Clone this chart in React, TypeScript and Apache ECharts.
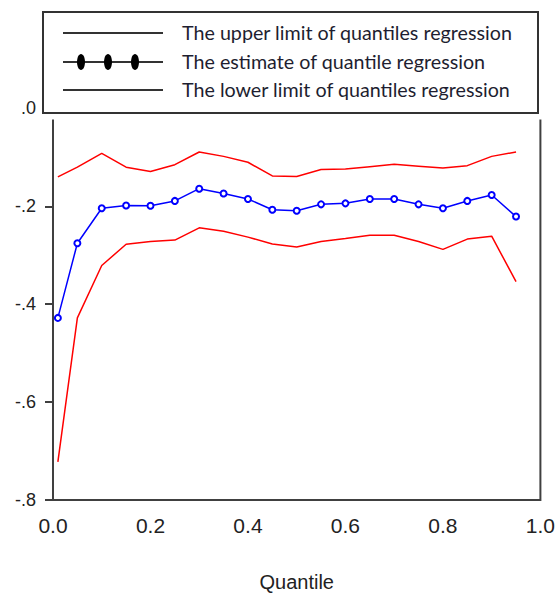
import React, { useEffect, useRef } from "react";
import * as echarts from "echarts";

const quantiles = [0.01, 0.05, 0.1, 0.15, 0.2, 0.25, 0.3, 0.35, 0.4, 0.45, 0.5, 0.55, 0.6, 0.65, 0.7, 0.75, 0.8, 0.85, 0.9, 0.95];
const upperLimit = [-0.14, -0.12, -0.092, -0.12, -0.129, -0.115, -0.089, -0.098, -0.11, -0.138, -0.139, -0.125, -0.124, -0.119, -0.114, -0.118, -0.122, -0.117, -0.098, -0.089];
const estimate = [-0.428, -0.2755, -0.204, -0.1985, -0.199, -0.189, -0.164, -0.174, -0.185, -0.207, -0.209, -0.196, -0.194, -0.185, -0.185, -0.196, -0.204, -0.189, -0.177, -0.221];
const lowerLimit = [-0.722, -0.428, -0.321, -0.2775, -0.272, -0.269, -0.244, -0.251, -0.263, -0.277, -0.283, -0.272, -0.266, -0.259, -0.259, -0.272, -0.288, -0.267, -0.261, -0.354];

const legendLabels = [
  "The upper limit of quantiles regression",
  "The estimate of quantile regression",
  "The lower limit of quantiles regression",
];

const xTitle = "Quantile";

export default function App() {
  const ref = useRef<HTMLDivElement>(null);
  useEffect(() => {
    if (!ref.current) return;
    const chart = echarts.init(ref.current, null, { renderer: "svg" });
    const pair = (arr: number[]) => quantiles.map((q, i) => [q, arr[i]]);
    const axisColor = "#404040";
    const rowY = [33, 62, 90];
    chart.setOption({
      animation: false,
      backgroundColor: "#ffffff",
      grid: { left: 53, right: 13, top: 108.4, bottom: 90, show: true, borderColor: axisColor, borderWidth: 2, containLabel: false },
      xAxis: {
        type: "value",
        min: 0,
        max: 1,
        interval: 0.2,
        name: xTitle,
        nameLocation: "middle",
        nameGap: 72,
        nameTextStyle: { fontFamily: "Liberation Sans", fontSize: 20, color: "#222" },
        axisLine: { show: true, lineStyle: { color: axisColor, width: 2 } },
        axisTick: { show: true, inside: false, length: 8, lineStyle: { color: axisColor, width: 2 } },
        axisLabel: { margin: 15, fontFamily: "Liberation Sans", fontSize: 21, color: "#222", formatter: (v: number) => v.toFixed(1) },
        splitLine: { show: false },
      },
      yAxis: {
        type: "value",
        min: -0.8,
        max: 0,
        interval: 0.2,
        axisLine: { show: true, lineStyle: { color: axisColor, width: 2 } },
        axisTick: { show: true, inside: false, length: 8, lineStyle: { color: axisColor, width: 2 } },
        axisLabel: { margin: 17, fontFamily: "Liberation Sans", fontSize: 18, color: "#222", formatter: (v: number) => v.toFixed(1).replace("0.", ".") },
        splitLine: { show: false },
      },
      series: [
        { name: legendLabels[0], type: "line", data: pair(upperLimit), showSymbol: false, symbol: "none", lineStyle: { color: "#ff0000", width: 1.5 }, itemStyle: { color: "#ff0000" } },
        { name: legendLabels[1], type: "line", data: pair(estimate), symbol: "emptyCircle", symbolSize: 6, lineStyle: { color: "#0000ff", width: 1.5 }, itemStyle: { color: "#0000ff", borderWidth: 1.5 } },
        { name: legendLabels[2], type: "line", data: pair(lowerLimit), showSymbol: false, symbol: "none", lineStyle: { color: "#ff0000", width: 1.5 }, itemStyle: { color: "#ff0000" } },
      ],
      graphic: [
        { type: "rect", z: 100, shape: { x: 40, y: 100, width: 515, height: 19.5 }, style: { fill: "#ffffff", stroke: null } },
        { type: "rect", z: 101, shape: { x: 43, y: 12, width: 495, height: 101 }, style: { fill: "#ffffff", stroke: "#333", lineWidth: 2 } },
        ...rowY.map((y) => ({ type: "line", z: 102, shape: { x1: 63, y1: y, x2: 163, y2: y }, style: { stroke: "#333", lineWidth: 2 } })),
        ...[81, 108, 135].map((cx) => ({ type: "ellipse", z: 103, shape: { cx, cy: rowY[1], rx: 4, ry: 8 }, style: { fill: "#000" } })),
        ...legendLabels.map((t, i) => ({
          type: "text",
          z: 103,
          x: 182,
          y: rowY[i] - 1,
          style: { text: t, fontFamily: "Lato", fontSize: 19.7, fill: "#1e1e30", textVerticalAlign: "middle", textAlign: "left" },
        })),
      ],
    });
    return () => chart.dispose();
  }, []);
  return <div ref={ref} style={{ position: "fixed", left: 0, top: 0, width: 558, height: 597 }} />;
}
